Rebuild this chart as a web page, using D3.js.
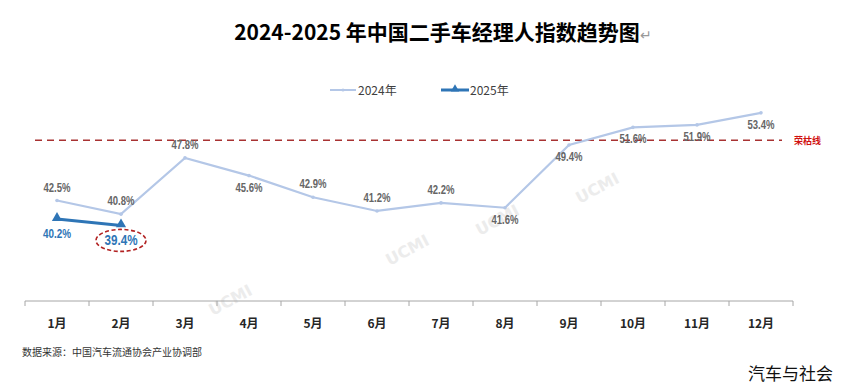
<!DOCTYPE html>
<html>
<head>
<meta charset="utf-8">
<script src="https://cdn.jsdelivr.net/npm/d3@7"></script>
<style>
  body { margin: 0; background: #fff; }
  text { font-family: "Noto Sans CJK SC", "Noto Sans", sans-serif; }
  .lbl { font-family: "Liberation Sans", "DejaVu Sans", sans-serif; font-weight: bold; }
</style>
</head>
<body>
<svg id="chart" width="846" height="389"></svg>
<script>
var months = ["1月","2月","3月","4月","5月","6月","7月","8月","9月","10月","11月","12月"];
var values2024 = [42.5, 40.8, 47.8, 45.6, 42.9, 41.2, 42.2, 41.6, 49.4, 51.6, 51.9, 53.4];
var values2025 = [40.2, 39.4];
// label above (-1) or below (+1) the point
var labelSide2024 = [-1, -1, -1, 1, -1, -1, -1, 1, 1, 1, 1, 1];
var threshold = 50;

var svg = d3.select("#chart");

var x = d3.scaleBand().domain(months).range([25, 793]);
var y = d3.scaleLinear().domain([30, 55]).range([301, 100]);
var cx = function (i) { return x(months[i]) + x.bandwidth() / 2; };

// title
var title = svg.append("text")
  .attr("x", 443).attr("y", 40)
  .attr("text-anchor", "middle")
  .style("font-size", "21px").style("font-weight", "bold")
  .text("2024-2025 年中国二手车经理人指数趋势图");
title.append("tspan").attr("fill", "#999").style("font-weight", "normal").style("font-size", "14px").text("↵");

// watermarks
[[233, 305], [410, 255], [500, 225], [600, 193]].forEach(function (p) {
  svg.append("text")
    .attr("transform", "translate(" + p[0] + "," + p[1] + ") rotate(-28)")
    .attr("text-anchor", "middle")
    .attr("fill", "#ececec")
    .style("font-size", "16px").style("font-weight", "bold")
    .style("font-family", "'DejaVu Sans', sans-serif")
    .text("UCMI");
});

// legend
var legend = svg.append("g");
legend.append("line").attr("x1", 330).attr("x2", 356).attr("y1", 90).attr("y2", 90)
  .attr("stroke", "#b4c7e7").attr("stroke-width", 2);
legend.append("circle").attr("cx", 343).attr("cy", 90).attr("r", 1.5).attr("fill", "#b4c7e7");
legend.append("text").attr("x", 358).attr("y", 95).style("font-size", "12px").attr("fill", "#404040").text("2024年");
legend.append("line").attr("x1", 441).attr("x2", 469).attr("y1", 90).attr("y2", 90)
  .attr("stroke", "#2e75b6").attr("stroke-width", 3);
legend.append("path").attr("d", d3.symbol(d3.symbolTriangle, 30)())
  .attr("transform", "translate(455,89)").attr("fill", "#2e75b6");
legend.append("text").attr("x", 470).attr("y", 95).style("font-size", "12px").attr("fill", "#404040").text("2025年");

// threshold line
svg.append("line")
  .attr("x1", 35).attr("x2", 782)
  .attr("y1", y(threshold)).attr("y2", y(threshold))
  .attr("stroke", "#a83232").attr("stroke-width", 1.5)
  .attr("stroke-dasharray", "7,5");
svg.append("text")
  .attr("x", 794).attr("y", y(threshold) + 4)
  .attr("fill", "#d01010")
  .style("font-size", "9px").style("font-weight", "bold")
  .text("荣枯线");

// x axis
var axis = svg.append("g")
  .attr("transform", "translate(0," + y(30) + ")");
axis.append("line").attr("x1", 25).attr("x2", 793).attr("stroke", "#a6a6a6");
axis.selectAll(".tk").data(d3.range(months.length + 1)).enter().append("line")
  .attr("x1", function (i) { return 25 + i * x.bandwidth(); })
  .attr("x2", function (i) { return 25 + i * x.bandwidth(); })
  .attr("y1", 0).attr("y2", 5).attr("stroke", "#a6a6a6");
axis.selectAll(".ml").data(months).enter().append("text")
  .attr("x", function (d) { return x(d) + x.bandwidth() / 2; })
  .attr("y", 27)
  .attr("text-anchor", "middle")
  .style("font-size", "12px").style("font-weight", "bold")
  .attr("fill", "#262626")
  .text(function (d) { return d; });

var line = d3.line()
  .x(function (d, i) { return cx(i); })
  .y(function (d) { return y(d); });

// 2024 series
svg.append("path").datum(values2024)
  .attr("d", line).attr("fill", "none")
  .attr("stroke", "#b4c7e7").attr("stroke-width", 2.2);
svg.selectAll(".p24").data(values2024).enter().append("circle")
  .attr("cx", function (d, i) { return cx(i); })
  .attr("cy", function (d) { return y(d); })
  .attr("r", 1.8).attr("fill", "#b4c7e7");
svg.selectAll(".l24").data(values2024).enter().append("text")
  .attr("class", "lbl")
  .attr("x", function (d, i) { return cx(i); })
  .attr("y", function (d, i) { return y(d) + (labelSide2024[i] < 0 ? -9 : 16); })
  .attr("text-anchor", "middle")
  .attr("fill", "#666")
  .attr("textLength", 27).attr("lengthAdjust", "spacingAndGlyphs")
  .style("font-size", "12px")
  .text(function (d) { return d.toFixed(1) + "%"; });

// 2025 series
svg.append("path").datum(values2025)
  .attr("d", line).attr("fill", "none")
  .attr("stroke", "#2e75b6").attr("stroke-width", 3);
svg.selectAll(".p25").data(values2025).enter().append("path")
  .attr("d", d3.symbol(d3.symbolTriangle, 45)())
  .attr("transform", function (d, i) { return "translate(" + cx(i) + "," + (y(d) - 1) + ")"; })
  .attr("fill", "#2e75b6");
svg.selectAll(".l25").data(values2025).enter().append("text")
  .attr("class", "lbl")
  .attr("x", function (d, i) { return cx(i); })
  .attr("y", function (d, i) { return y(d) + (i === 1 ? 20 : 19); })
  .attr("text-anchor", "middle")
  .attr("fill", "#2e75b6")
  .attr("textLength", function (d, i) { return i === 1 ? 33 : 28; })
  .attr("lengthAdjust", "spacingAndGlyphs")
  .style("font-size", function (d, i) { return i === 1 ? "14px" : "12px"; })
  .text(function (d) { return d.toFixed(1) + "%"; });
// highlight ellipse round the latest value
svg.append("ellipse")
  .attr("cx", cx(1)).attr("cy", y(values2025[1]) + 15)
  .attr("rx", 25).attr("ry", 11)
  .attr("fill", "none").attr("stroke", "#b22222")
  .attr("stroke-width", 1.6).attr("stroke-dasharray", "4,2.5");

// source and signature
svg.append("text").attr("x", 22).attr("y", 356)
  .style("font-size", "10px").attr("fill", "#333")
  .text("数据来源：中国汽车流通协会产业协调部");
svg.append("text").attr("x", 833).attr("y", 380).attr("text-anchor", "end")
  .style("font-size", "17px").attr("fill", "#111")
  .text("汽车与社会");
</script>
</body>
</html>
